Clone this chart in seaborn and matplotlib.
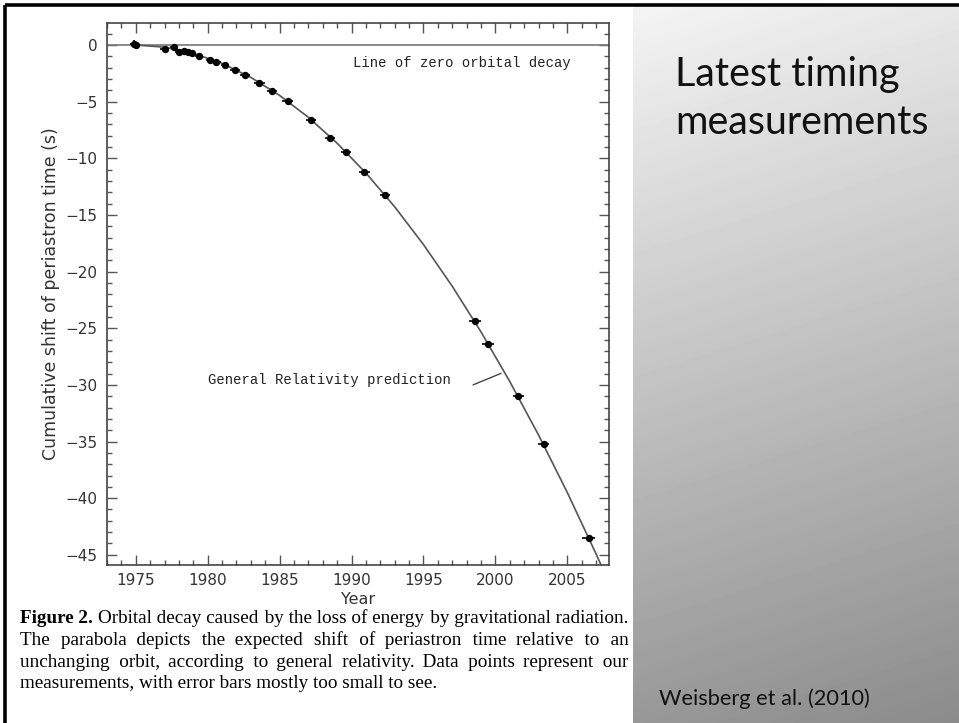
import numpy as np
import matplotlib
matplotlib.use("Agg")
import matplotlib.pyplot as plt
import matplotlib.ticker as plticker
from matplotlib import font_manager
from matplotlib.font_manager import FontProperties
from matplotlib.ft2font import FT2Font
import seaborn as sns


# ---- data ----
YEARS = [1974.85, 1975.0, 1977.0, 1977.65, 1978.0, 1978.35, 1978.6, 1978.9, 1979.4,
         1980.15, 1980.6, 1981.2, 1981.9, 1982.6, 1983.6, 1984.5, 1985.55, 1987.2,
         1988.5, 1989.6, 1990.9, 1992.3, 1998.6, 1999.5, 2001.6, 2003.35, 2006.5]
SHIFT = [0.12, 0.0, -0.38, -0.15, -0.65, -0.56, -0.65, -0.70, -0.94,
         -1.35, -1.50, -1.77, -2.24, -2.62, -3.32, -4.09, -4.94, -6.59,
         -8.18, -9.44, -11.2, -13.2, -24.4, -26.4, -31.0, -35.2, -43.5]
XERR = [0.25, 0.25, 0.3, 0.3, 0.25, 0.25, 0.25, 0.25, 0.3,
        0.3, 0.3, 0.3, 0.35, 0.35, 0.35, 0.35, 0.35, 0.35,
        0.35, 0.35, 0.35, 0.35, 0.4, 0.4, 0.4, 0.4, 0.45]
YERR = [0.35, 0.25, 0.2, 0.15, 0.12, 0.1, 0.1, 0.1, 0.1,
        0.08, 0.08, 0.08, 0.08, 0.08, 0.08, 0.08, 0.08, 0.08,
        0.08, 0.08, 0.08, 0.08, 0.08, 0.08, 0.08, 0.08, 0.08]

# general relativity prediction (parabola)
CURVE_YEAR = [1975, 1977, 1979, 1981, 1983, 1985, 1987, 1989, 1991, 1993,
              1995, 1997, 1999, 2001, 2003, 2005, 2007, 2007.4]
CURVE_SHIFT = [0.0, -0.19, -0.73, -1.62, -2.86, -4.45, -6.38, -8.67, -11.30, -14.28,
               -17.61, -21.29, -25.32, -29.70, -34.42, -39.50, -44.92, -46.05]

XLIM = (1973.0, 2007.9)
YLIM = (-45.9, 1.97)
X_TICKS = [1975, 1980, 1985, 1990, 1995, 2000, 2005]
Y_TICKS = [0, -5, -10, -15, -20, -25, -30, -35, -40, -45]

LEADER = ((1998.45, -30.0), (2000.4, -28.98))

CAPTION_BOLD = "Figure 2."
CAPTION = [
    "Orbital decay caused by the loss of energy by gravitational radiation.",
    "The parabola depicts the expected shift of periastron time relative to an",
    "unchanging orbit, according to general relativity. Data points represent our",
    "measurements, with error bars mostly too small to see.",
]

W, H = 959, 723
SERIF = "Liberation Serif"
HAIR = "\u200a"


def text_width(ax, renderer, s, size, family, weight="normal"):
    t = ax.text(0, 0, s, fontsize=size, family=family, weight=weight)
    w = t.get_window_extent(renderer).width
    t.remove()
    return w


def fit_size(ax, renderer, s, target, family, base=20.0, weight="normal"):
    return base * target / text_width(ax, renderer, s, base, family, weight)


def justify(words, widths, space_w, hair_w, target):
    # join words with one space plus a number of hair spaces so the line
    # reaches the target width (error carried from gap to gap)
    extra = (target - sum(widths)) / (len(words) - 1) - space_w
    out, carry = words[0], 0.0
    for w in words[1:]:
        want = extra + carry
        n = max(0, int(round(want / hair_w)))
        carry = want - n * hair_w
        out += " " + HAIR * n + w
    return out


def main() -> None:
    sns.set_theme(style="ticks")
    plt.rcParams["font.family"] = ["DejaVu Sans"]

    fig = plt.figure(figsize=(W / 100, H / 100), dpi=100)
    fig.patch.set_facecolor("white")
    renderer = fig.canvas.get_renderer()

    # slide background in pixel coordinates
    bg = fig.add_axes([0, 0, 1, 1])
    bg.set_xlim(0, W)
    bg.set_ylim(H, 0)
    bg.axis("off")

    gy, gx = np.mgrid[0:1:200j, 0:1:60j]
    shade = 0.955 - 0.36 * gy - 0.05 * gx
    bg.imshow(shade, cmap="gray", vmin=0, vmax=1, extent=[633, W, H, 7],
              aspect="auto", interpolation="bilinear", zorder=0)
    bg.plot([5, W], [5, 5], color="black", lw=2.6, solid_capstyle="butt", zorder=2)
    bg.plot([5, 5], [5, H], color="black", lw=2.6, solid_capstyle="butt", zorder=2)

    # title and reference on the gray panel
    ts = fit_size(bg, renderer, "measurements", 255, "Lato")
    bg.text(675, 86, "Latest timing", fontsize=ts, family="Lato", color="#111111", va="baseline")
    bg.text(675, 134, "measurements", fontsize=ts, family="Lato", color="#111111", va="baseline")
    rs = fit_size(bg, renderer, "Weisberg et al. (2010)", 211, "Lato")
    bg.text(659, 705, "Weisberg et al. (2010)", fontsize=rs, family="Lato", color="#111111", va="baseline")

    # justified caption: one text per line, so every word sits on the same baseline
    x0, x1 = 20, 628
    cs = fit_size(bg, renderer, CAPTION_BOLD + " " + CAPTION[0], 600, SERIF)
    baselines = [623, 645, 667, 688]
    serif_path = font_manager.findfont(FontProperties(family=SERIF))
    has_hair = 0x200A in FT2Font(serif_path).get_charmap()

    space_w = text_width(bg, renderer, "a a", cs, SERIF) - text_width(bg, renderer, "aa", cs, SERIF)
    hair_w = 0.0
    if has_hair:
        hair_w = (text_width(bg, renderer, "a" + HAIR * 40 + "a", cs, SERIF)
                  - text_width(bg, renderer, "aa", cs, SERIF)) / 40

    bold_w = text_width(bg, renderer, CAPTION_BOLD, cs, SERIF, "bold")
    bg.text(x0, baselines[0], CAPTION_BOLD, fontsize=cs, family=SERIF, weight="bold",
            color="black", va="baseline")
    for i, line in enumerate(CAPTION):
        start = x0 + bold_w + space_w if i == 0 else x0
        words = line.split()
        if i == len(CAPTION) - 1:
            bg.text(start, baselines[i], line, fontsize=cs, family=SERIF, color="black", va="baseline")
            continue
        widths = [text_width(bg, renderer, w, cs, SERIF) for w in words]
        if hair_w > 0.05:
            s = justify(words, widths, space_w, hair_w, x1 - start)
            bg.text(start, baselines[i], s, fontsize=cs, family=SERIF, color="black", va="baseline")
        else:
            gap = (x1 - start - sum(widths)) / (len(words) - 1)
            x = start
            for w, wd in zip(words, widths):
                bg.text(x, baselines[i], w, fontsize=cs, family=SERIF, color="black", va="baseline")
                x += wd + gap

    # main chart
    ax = fig.add_axes([107 / W, 1 - 565 / H, (609 - 107) / W, (565 - 22.7) / H])
    ax.set_facecolor("white")
    ax.axhline(0, color="#777777", lw=1.2, zorder=1)
    sns.lineplot(x=CURVE_YEAR, y=CURVE_SHIFT, sort=False, estimator=None,
                 color="#555555", lw=1.2, ax=ax, zorder=2)
    ax.errorbar(YEARS, SHIFT, xerr=XERR, yerr=YERR, fmt="none", ecolor="black",
                elinewidth=1.2, capsize=0, zorder=3)
    sns.scatterplot(x=YEARS, y=SHIFT, color="black", s=28, linewidth=0, ax=ax, zorder=4)

    ax.set_xlim(*XLIM)
    ax.set_ylim(*YLIM)
    ax.set_xticks(X_TICKS)
    ax.set_yticks(Y_TICKS)
    ax.xaxis.set_minor_locator(plticker.MultipleLocator(1))
    ax.yaxis.set_minor_locator(plticker.MultipleLocator(1))
    ax.tick_params(which="both", direction="in", top=True, right=True, colors="#555555",
                   labelcolor="#333333", width=1.0)
    ax.tick_params(which="major", length=7.2, labelsize=11)
    ax.tick_params(which="minor", length=3.4)
    ax.tick_params(axis="x", which="major", pad=6)
    ax.tick_params(axis="y", which="major", pad=7)
    for sp in ax.spines.values():
        sp.set_color("#444444")
        sp.set_linewidth(1.2)

    ax.set_xlabel("Year", fontsize=11.5, color="#333333", labelpad=3)
    ax.set_ylabel("Cumulative shift of periastron time (s)", fontsize=12.5,
                  color="#333333", labelpad=4)

    ax.text(1990.1, -1.6, "Line of zero orbital decay", family="Liberation Mono",
            fontsize=10, color="#222222", va="center")
    ax.text(1980.05, -29.6, "General Relativity prediction", family="Liberation Mono",
            fontsize=10, color="#222222", va="center")
    ax.annotate("", xy=LEADER[1], xytext=LEADER[0],
                arrowprops=dict(arrowstyle="-", color="#444444", lw=1.0,
                                shrinkA=0, shrinkB=0))

    fig.savefig("out.png", dpi=100)
    plt.close(fig)


if __name__ == "__main__":
    main()
